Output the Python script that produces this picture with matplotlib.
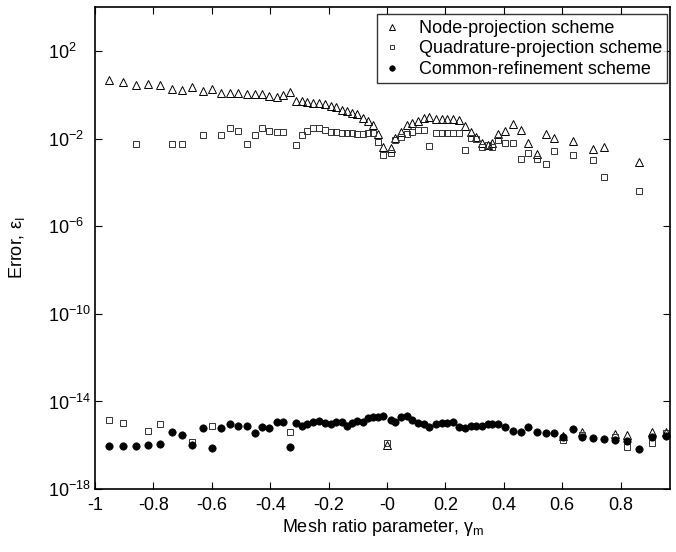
import numpy as np
import matplotlib
matplotlib.use("Agg")
import matplotlib.pyplot as plt
from matplotlib.ticker import FixedLocator, FuncFormatter, NullLocator

plt.rcParams['font.family'] = ['Liberation Sans', 'DejaVu Sans']
plt.rcParams['axes.unicode_minus'] = False
plt.rcParams['mathtext.fontset'] = 'custom'
plt.rcParams['mathtext.rm'] = 'Liberation Sans'
plt.rcParams['mathtext.it'] = 'Liberation Sans:italic'

# mesh ratio parameter values
gamma = [-0.952, -0.904, -0.860, -0.818, -0.777, -0.736, -0.702, -0.668, -0.630, -0.599,
         -0.568, -0.538, -0.510, -0.479, -0.452, -0.428, -0.404, -0.377, -0.356, -0.332,
         -0.312, -0.291, -0.274, -0.253, -0.233, -0.212, -0.192, -0.175, -0.154, -0.137,
         -0.120, -0.103, -0.082, -0.065, -0.048, -0.031, -0.012, 0.0, 0.012, 0.027,
         0.048, 0.068, 0.086, 0.106, 0.127, 0.144, 0.168, 0.188, 0.205, 0.226,
         0.247, 0.267, 0.288, 0.305, 0.325, 0.346, 0.360, 0.380, 0.404, 0.432,
         0.459, 0.483, 0.514, 0.545, 0.572, 0.603, 0.637, 0.668, 0.705, 0.743,
         0.781, 0.822, 0.863, 0.908, 0.955]

# log10 of the error for each scheme
node_exp = [0.68, 0.58, 0.45, 0.49, 0.45, 0.26, 0.22, 0.36, 0.17, 0.26,
            0.08, 0.08, 0.08, 0.04, 0.04, 0.04, -0.05, -0.10, -0.03, 0.13,
            -0.28, -0.28, -0.33, -0.37, -0.37, -0.42, -0.51, -0.56, -0.69, -0.74,
            -0.83, -0.88, -1.06, -1.20, -1.38, -1.79, -2.38, -15.99, -2.43, -1.97,
            -1.70, -1.38, -1.29, -1.20, -1.06, -1.01, -1.11, -1.11, -1.11, -1.11,
            -1.15, -1.42, -1.70, -1.93, -2.20, -2.29, -2.20, -1.79, -1.65, -1.33,
            -1.61, -2.20, -2.70, -1.79, -1.97, -15.58, -2.11, -15.40, -2.47, -2.38,
            -15.49, -15.53, -3.07, -15.40, -15.40]

quad_exp = [-14.85, -14.99, -2.25, -15.35, -15.03, -2.25, -2.25, -15.85, -1.84, -15.12,
            -1.84, -1.52, -1.65, -2.25, -1.84, -1.52, -1.65, -1.70, -1.70, -15.40,
            -2.29, -1.84, -1.65, -1.52, -1.52, -1.61, -1.70, -1.70, -1.74, -1.74,
            -1.74, -1.79, -1.79, -1.74, -1.74, -2.16, -2.75, -15.90, -2.66, -2.06,
            -1.93, -1.79, -1.70, -1.61, -1.61, -2.34, -1.74, -1.74, -1.74, -1.74,
            -1.74, -2.52, -1.97, -2.02, -2.38, -2.29, -2.38, -2.06, -2.20, -2.20,
            -2.93, -2.66, -2.93, -3.16, -2.57, -15.76, -2.75, -15.53, -2.98, -3.75,
            -15.63, -16.08, -4.39, -15.90, -15.44]

common_exp = [-16.04, -16.04, -16.04, -15.99, -15.95, -15.40, -15.53, -15.99, -15.21, -16.13,
              -15.21, -15.03, -15.12, -15.12, -15.44, -15.17, -15.21, -14.94, -14.94, -16.08,
              -14.99, -15.12, -15.03, -14.94, -14.89, -14.99, -15.03, -14.94, -14.94, -15.12,
              -14.99, -14.89, -14.94, -14.76, -14.71, -14.71, -14.67, np.nan, -14.85, -14.94,
              -14.71, -14.67, -14.85, -14.99, -15.03, -15.17, -15.03, -14.99, -14.99, -14.94,
              -15.17, -15.21, -15.12, -15.12, -15.12, -15.03, -15.03, -15.03, -15.17, -15.35,
              -15.40, -15.17, -15.40, -15.44, -15.44, -15.63, -15.26, -15.63, -15.67, -15.72,
              -15.76, -15.81, -16.17, -15.63, -15.58]

x = np.array(gamma)
node = 10.0 ** np.array(node_exp)
quad = 10.0 ** np.array(quad_exp)
common = 10.0 ** np.array(common_exp)

fig = plt.figure(figsize=(6.76, 5.52), dpi=100)
ax = fig.add_axes([0.1405, 0.114, 0.851, 0.873])

ax.plot(x, node, linestyle='none', marker='^', markersize=5.5, markerfacecolor='none',
        markeredgecolor='black', markeredgewidth=0.7, label='Node-projection scheme')
ax.plot(x, quad, linestyle='none', marker='s', markersize=4.5, markerfacecolor='none',
        markeredgecolor='#333333', markeredgewidth=0.7, label='Quadrature-projection scheme')
ax.plot(x, common, linestyle='none', marker='o', markersize=5.3, markerfacecolor='black',
        markeredgecolor='black', markeredgewidth=0.5, label='Common-refinement scheme')

ax.set_yscale('log')
ax.set_xlim(-1, 0.97)
ax.set_ylim(1e-18, 1e4)
ax.yaxis.set_major_locator(FixedLocator([10.0 ** k for k in range(-18, 3, 4)]))
ax.yaxis.set_minor_locator(NullLocator())
ax.yaxis.set_major_formatter(FuncFormatter(
    lambda v, p: r'$\mathregular{10^{%d}}$' % round(np.log10(v))))
ax.set_xticks(np.arange(-1, 0.81, 0.2))
ax.xaxis.set_major_formatter(FuncFormatter(lambda v, p: '%g' % round(v, 1)))

ax.tick_params(direction='in', top=True, right=True, length=5, width=0.8, labelsize=13)
# left-aligned exponent labels, as in the original
ax.tick_params(axis='y', pad=34)
ax.tick_params(axis='x', pad=6)
plt.setp(ax.get_yticklabels(), ha='left')
for s in ax.spines.values():
    s.set_linewidth(1.2)

ax.set_xlabel(r'Mesh ratio parameter, $\mathregular{\gamma_m}$', fontsize=13, labelpad=2)
ax.set_ylabel(r'Error, $\mathregular{\varepsilon_I}$', fontsize=13)
ax.yaxis.set_label_coords(-0.118, 0.5)

leg = ax.legend(loc='upper right', bbox_to_anchor=(0.995, 0.985), borderaxespad=0,
                fontsize=13, frameon=True, fancybox=False, edgecolor='black',
                handlelength=1.0, handletextpad=1.0, borderpad=0.3,
                labelspacing=0.2, markerscale=0.75)
leg.get_frame().set_linewidth(1.0)

fig.savefig('out.png', dpi=100)
